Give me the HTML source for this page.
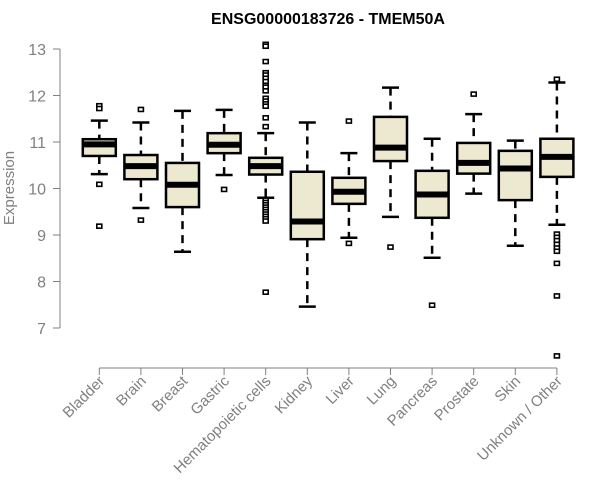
<!DOCTYPE html>
<html><head><meta charset="utf-8"><style>
body{margin:0;background:#fff}
svg{display:block;font-family:"Liberation Sans",Arial,sans-serif}
</style></head><body>
<svg id="chart" width="600" height="500">
<text x="328" y="24" text-anchor="middle" font-weight="bold" font-size="16">ENSG00000183726 - TMEM50A</text>
<text transform="translate(14,188) rotate(-90)" text-anchor="middle" font-size="15" fill="#808080">Expression</text>
<g id="axes"></g><g id="boxes"></g>
</svg>
<script>
const categories=["Bladder","Brain","Breast","Gastric","Hematopoietic cells","Kidney","Liver","Lung","Pancreas","Prostate","Skin","Unknown / Other"];
const lowWhisker=[10.31,9.58,8.64,10.29,9.80,7.46,8.94,9.39,8.51,9.89,8.77,9.22];
const q1=[10.70,10.20,9.60,10.76,10.30,8.91,9.67,10.59,9.37,10.32,9.75,10.25];
const median=[10.95,10.48,10.08,10.94,10.48,9.29,9.93,10.88,9.87,10.55,10.43,10.68];
const q3=[11.06,10.72,10.55,11.19,10.66,10.36,10.23,11.54,10.38,10.98,10.81,11.07];
const highWhisker=[11.46,11.42,11.67,11.69,11.19,11.42,10.76,12.17,11.07,11.60,11.03,12.28];
const outliers=[[11.78,11.72,10.09,9.19],[11.70,9.32],[],[9.98],
[13.10,13.06,12.73,12.49,12.44,12.37,12.30,12.22,12.18,12.10,11.94,11.88,11.82,11.77,11.52,11.33,9.75,9.70,9.65,9.60,9.55,9.50,9.45,9.40,9.35,9.30,7.77],
[],[11.45,8.82],[8.74],[7.49],[12.03],[],[12.35,9.02,8.95,8.88,8.80,8.72,8.65,8.39,7.69,6.40]];
const yTicks=[7,8,9,10,11,12,13];
const NS="http://www.w3.org/2000/svg";
const y=v=>328-(v-7)*46.5;
const x=i=>99.3+41.6*i;
function mk(tag,attrs,parent){const e=document.createElementNS(NS,tag);for(const k in attrs)e.setAttribute(k,attrs[k]);parent.appendChild(e);return e;}
const ax=document.getElementById('axes'),bx=document.getElementById('boxes');
let l=mk('line',{x1:60,x2:60,y1:y(13),y2:y(7),stroke:'#808080'},ax);


yTicks.forEach(t=>{
 mk('line',{x1:53,x2:60,y1:y(t),y2:y(t),stroke:'#808080'},ax);
 const tx=mk('text',{x:46,y:y(t)+6,'text-anchor':'end','font-size':16,fill:'#808080'},ax);tx.textContent=t;
 
 
});
l=mk('line',{x1:x(0),x2:x(11),y1:368,y2:368,stroke:'#808080'},ax);


categories.forEach((c,i)=>{
 mk('line',{x1:x(i),x2:x(i),y1:368,y2:375,stroke:'#808080'},ax);
 const tx=mk('text',{transform:`translate(${x(i)+6},${382}) rotate(-45)`,'text-anchor':'end','font-size':15,fill:'#808080'},ax);tx.textContent=c;
 
 
 const g=mk('g',{},bx);
 
 
 const cx=x(i),hw=16.5;
 mk('line',{x1:cx,x2:cx,y1:y(highWhisker[i]),y2:y(q3[i]),stroke:'#000','stroke-width':2.5,'stroke-dasharray':'8,6'},g);
 mk('line',{x1:cx,x2:cx,y1:y(q1[i]),y2:y(lowWhisker[i]),stroke:'#000','stroke-width':2.5,'stroke-dasharray':'8,6'},g);
 mk('line',{x1:cx-8.5,x2:cx+8.5,y1:y(highWhisker[i]),y2:y(highWhisker[i]),stroke:'#000','stroke-width':2.5},g);
 mk('line',{x1:cx-8.5,x2:cx+8.5,y1:y(lowWhisker[i]),y2:y(lowWhisker[i]),stroke:'#000','stroke-width':2.5},g);
 mk('rect',{x:cx-hw,y:y(q3[i]),width:2*hw,height:y(q1[i])-y(q3[i]),fill:'#ede8d0',stroke:'#000','stroke-width':2.5},g);
 mk('line',{x1:cx-hw,x2:cx+hw,y1:y(median[i]),y2:y(median[i]),stroke:'#000','stroke-width':6},g);
 outliers[i].forEach(v=>{mk('rect',{x:cx-2.5,y:y(v)-2,width:5,height:4,fill:'#fff',stroke:'#000','stroke-width':1.6},g);});
});
</script>
</body></html>
